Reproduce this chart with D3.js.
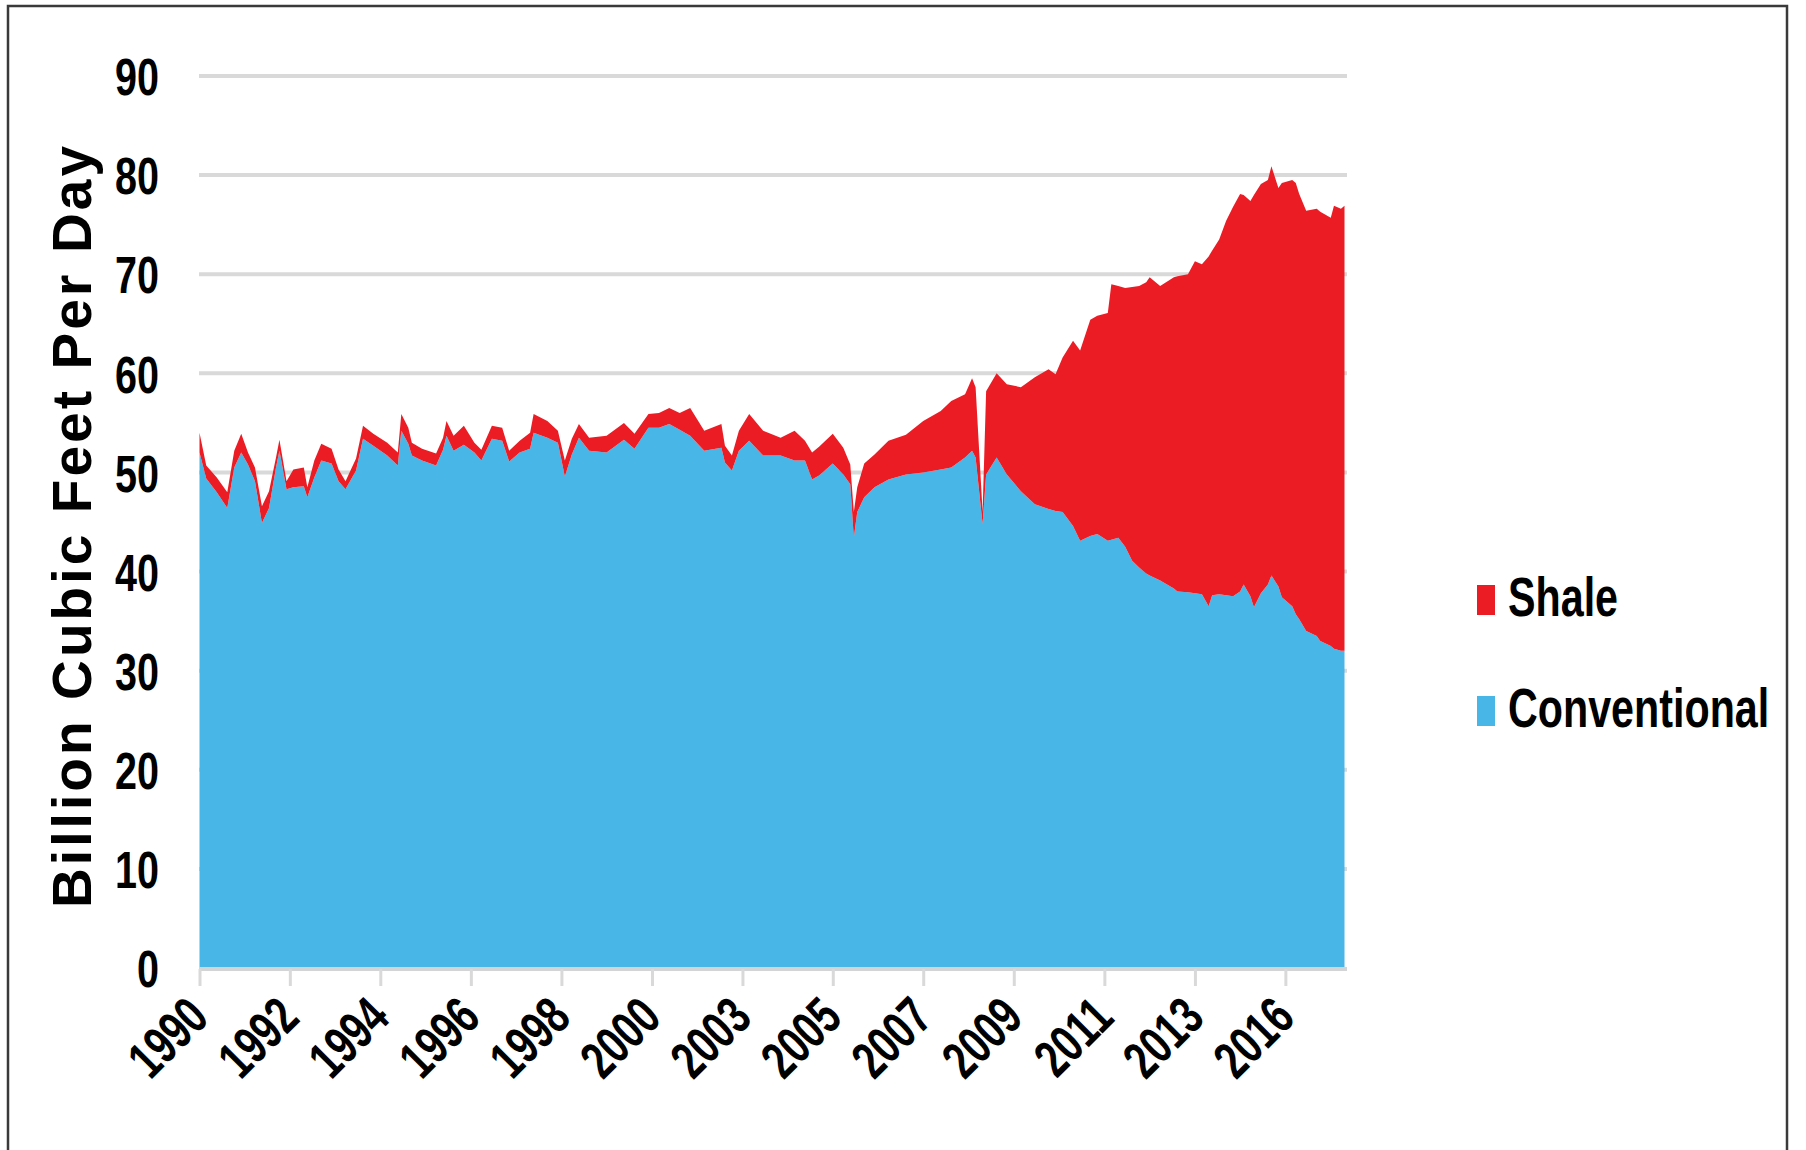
<!DOCTYPE html>
<html>
<head>
<meta charset="utf-8">
<script src="https://cdn.jsdelivr.net/npm/d3@7"></script>
<style>
  html, body { margin: 0; padding: 0; background: #ffffff; }
  svg { display: block; }
  text { font-family: "Liberation Sans", Arial, Helvetica, sans-serif; font-weight: bold; fill: #000; }
</style>
</head>
<body>
<svg id="chart" width="1806" height="1150"></svg>
<script>
// ---- data (monthly samples, Billion Cubic Feet per Day) ----
const months = ["1990-01","1990-03","1990-06","1990-09","1990-11","1991-01","1991-03","1991-05","1991-07","1991-09","1991-11","1991-12",
"1992-02","1992-04","1992-07","1992-08","1992-10","1992-12","1993-03","1993-05","1993-07","1993-10","1993-12",
"1994-03","1994-07","1994-10","1994-11","1995-01","1995-02","1995-05","1995-09","1995-11","1995-12",
"1996-02","1996-05","1996-08","1996-10","1997-01","1997-04","1997-06","1997-09","1997-12",
"1998-01","1998-05","1998-08","1998-10","1998-12","1999-02","1999-05","1999-10",
"2000-03","2000-06","2000-10","2001-01","2001-04","2001-07","2001-10","2002-02","2002-07","2002-08","2002-10","2002-12",
"2003-03","2003-07","2003-12","2004-04","2004-07","2004-09","2004-11","2005-03","2005-06","2005-08","2005-09","2005-10","2005-12",
"2006-03","2006-07","2006-12","2007-05","2007-10","2008-01","2008-05","2008-07","2008-08","2008-10","2008-11",
"2009-02","2009-05","2009-09","2010-01","2010-05","2010-07","2010-09","2010-12","2011-02","2011-05","2011-07","2011-10","2011-11",
"2012-01","2012-03","2012-05","2012-07","2012-09","2012-10","2013-01","2013-05","2013-06","2013-09","2013-11",
"2014-01","2014-03","2014-04","2014-06","2014-08","2014-10","2014-12","2015-01","2015-03","2015-04","2015-06","2015-08","2015-09","2015-11","2015-12",
"2016-03","2016-04","2016-05","2016-07","2016-10","2016-11","2017-02","2017-03","2017-05","2017-06"];

const conventional = [52.0,49.4,48.0,46.4,50.5,52.0,50.8,49.1,44.9,46.4,50.5,52.2,
48.3,48.5,48.6,47.5,49.5,51.2,50.9,49.1,48.3,50.2,53.4,
52.7,51.7,50.7,54.2,52.9,51.7,51.2,50.7,52.3,53.7,
52.2,52.8,52.0,51.2,53.4,53.2,51.1,52.0,52.4,
54.0,53.5,53.0,49.6,51.8,53.5,52.2,52.0,
53.3,52.4,54.5,54.5,54.9,54.3,53.7,52.2,52.5,51.0,50.2,52.2,
53.2,51.7,51.7,51.2,51.2,49.3,49.7,50.9,49.8,48.8,43.4,46.0,47.5,
48.5,49.3,49.8,50.0,50.3,50.5,51.5,52.2,51.5,44.8,49.8,
51.5,49.8,48.1,46.8,46.3,46.1,46.0,44.6,43.1,43.6,43.8,43.1,43.2,
43.4,42.5,41.1,40.4,39.8,39.6,39.1,38.3,38.0,37.9,37.8,
37.7,36.5,37.6,37.7,37.6,37.5,38.0,38.7,37.5,36.4,37.8,38.7,39.6,38.5,37.4,
36.5,35.7,35.2,34.0,33.5,33.0,32.5,32.2,32.0,32.0];

const shale = [2.0,1.3,1.5,1.6,1.7,1.9,1.2,1.4,1.7,1.7,1.0,1.1,
0.8,1.8,1.9,1.0,1.7,1.7,1.5,1.2,0.8,1.2,1.3,
1.2,1.3,1.3,1.7,1.6,1.3,1.2,1.2,1.2,1.5,
1.5,1.9,1.0,1.1,1.3,1.3,1.1,1.2,1.6,
1.9,1.7,1.2,1.6,1.6,1.4,1.3,1.7,
1.7,1.5,1.4,1.5,1.6,1.7,2.8,2.0,2.4,1.7,1.5,2.0,
2.7,2.5,1.8,3.0,2.0,2.7,2.9,3.0,2.7,2.0,2.6,2.5,3.4,
3.3,3.9,4.0,5.2,5.9,6.7,6.4,7.3,7.1,1.2,8.4,
8.5,9.1,10.5,12.8,14.1,13.8,15.6,18.7,19.2,21.8,22.0,23.0,25.8,
25.4,26.1,27.6,28.4,29.4,30.1,29.7,31.4,31.8,32.1,33.5,
33.3,35.3,34.8,35.8,37.8,39.3,40.1,39.3,39.9,41.6,41.3,40.8,41.3,40.2,41.8,
43.0,43.5,42.9,42.4,43.1,43.3,43.2,44.7,44.6,44.9];

const seriesNames = ["Conventional", "Shale"];
const yTicks = [0, 10, 20, 30, 40, 50, 60, 70, 80, 90];
const xTickMonths = ["1990-01","1992-03","1994-05","1996-07","1998-09","2000-11","2003-01","2005-03","2007-05","2009-07","2011-09","2013-11","2016-01"];
const xTickLabels = ["1990","1992","1994","1996","1998","2000","2003","2005","2007","2009","2011","2013","2016"];
const yTitle = "Billion Cubic Feet Per Day";

// ---- build ----
const parse = d3.timeParse("%Y-%m");
const rows = months.map((m, i) => ({ date: parse(m), Conventional: conventional[i], Shale: shale[i] }));

const svg = d3.select("#chart");
const colors = { Conventional: "#48b6e6", Shale: "#ec1c24" };

const x = d3.scaleTime()
  .domain([parse("1990-01"), parse("2017-06")])
  .range([199.5, 1344.5]);
const y = d3.scaleLinear().domain([0, 90]).range([968, 76]);

// frame
svg.append("rect").attr("x", 8).attr("y", 6).attr("width", 1779).attr("height", 1170)
  .attr("fill", "none").attr("stroke", "#3a3a3a").attr("stroke-width", 2.5);

// gridlines
svg.append("g").selectAll("line").data(yTicks.filter(d => d > 0)).join("line")
  .attr("x1", 199).attr("x2", 1347)
  .attr("y1", d => y(d)).attr("y2", d => y(d))
  .attr("stroke", "#d9d9d9").attr("stroke-width", 4);

// stacked areas
const stack = d3.stack().keys(seriesNames);
const stacked = stack(rows);
const area = d3.area()
  .x(d => x(d.data.date))
  .y0(d => y(d[0]))
  .y1(d => y(d[1]));

svg.append("g").selectAll("path").data(stacked).join("path")
  .attr("d", area)
  .attr("fill", d => colors[d.key]);

// x axis
const xAxis = d3.axisBottom(x)
  .tickValues(xTickMonths.map(parse))
  .tickFormat((d, i) => xTickLabels[i])
  .tickSizeOuter(0)
  .tickSizeInner(17);
const gx = svg.append("g").attr("transform", "translate(0,969)").call(xAxis);
gx.select(".domain").attr("stroke", "#d2d4d6").attr("stroke-width", 4)
  .attr("d", "M199,0H1347");
gx.selectAll(".tick line").attr("stroke", "#d9d9d9").attr("stroke-width", 3);
gx.selectAll(".tick text")
  .attr("y", null).attr("dy", null)
  .attr("text-anchor", "end")
  .attr("font-size", 53)
  .attr("transform", "translate(11,51) rotate(-45) scale(0.73,1)");

// y axis labels
const yAxis = d3.axisLeft(y).tickValues(yTicks).tickSize(0).tickFormat(d3.format("d"));
const gy = svg.append("g").attr("transform", "translate(159,0)").call(yAxis);
gy.select(".domain").remove();
gy.selectAll(".tick text")
  .attr("x", null).attr("dy", "0.36em")
  .attr("text-anchor", "end")
  .attr("font-size", 52)
  .attr("transform", "scale(0.76,1)");

// y title
svg.append("text")
  .attr("transform", "translate(91,527) rotate(-90)")
  .attr("text-anchor", "middle")
  .attr("font-size", 55)
  .attr("textLength", 762)
  .attr("lengthAdjust", "spacing")
  .text(yTitle);

// legend
const legendItems = [{ key: "Shale", y: 616 }, { key: "Conventional", y: 727 }];
const lg = svg.append("g");
lg.selectAll("rect").data(legendItems).join("rect")
  .attr("x", 1477).attr("y", d => d.y - 31).attr("width", 18).attr("height", 30)
  .attr("fill", d => colors[d.key]);
lg.selectAll("text").data(legendItems).join("text")
  .attr("transform", d => `translate(1508,${d.y}) scale(0.75,1)`)
  .attr("font-size", 55)
  .text(d => d.key);
</script>
</body>
</html>
